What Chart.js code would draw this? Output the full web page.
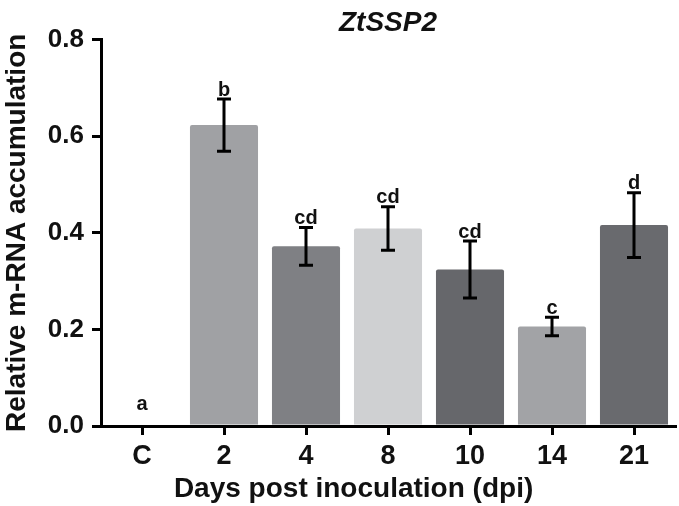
<!DOCTYPE html>
<html>
<head>
<meta charset="utf-8">
<script src="https://cdn.jsdelivr.net/npm/chart.js@4"></script>
<style>
  html, body { margin: 0; padding: 0; background: #fff; }
  #wrap { width: 679px; height: 506px; }
</style>
</head>
<body>
<div id="wrap"><canvas id="exprChart" width="679" height="506"></canvas></div>
<script>
const days = ["C", "2", "4", "8", "10", "14", "21"];
const meanExpr = [0, 0.623, 0.372, 0.409, 0.324, 0.206, 0.416];
const errExpr = [0, 0.054, 0.039, 0.045, 0.059, 0.019, 0.067];
const groupLetters = ["a", "b", "cd", "cd", "cd", "c", "d"];
const barColors = ["#ffffff", "#a0a1a4", "#7f8084", "#cfd0d2", "#66676b", "#a2a3a6", "#696a6e"];
const yTicks = [0, 0.2, 0.4, 0.6, 0.8];
const xTitle = "Days post inoculation (dpi)";

const FONT = "'Liberation Sans', Arial, Helvetica, sans-serif";

// error bars, significance letters and the x axis title
const errorBarPlugin = {
  id: "errorBars",
  afterDatasetsDraw(chart) {
    const ctx = chart.ctx;
    const x = chart.scales.x;
    const y = chart.scales.y;
    ctx.save();
    ctx.strokeStyle = "#000";
    ctx.fillStyle = "#111";
    ctx.lineWidth = 3;
    ctx.font = "bold 20px " + FONT;
    ctx.textAlign = "center";
    ctx.textBaseline = "bottom";
    meanExpr.forEach((v, i) => {
      const cx = x.getPixelForValue(i);
      const top = y.getPixelForValue(v + errExpr[i]);
      const bot = y.getPixelForValue(v - errExpr[i]);
      if (errExpr[i] > 0) {
        ctx.beginPath();
        ctx.moveTo(cx, top);
        ctx.lineTo(cx, bot);
        ctx.moveTo(cx - 7, top);
        ctx.lineTo(cx + 7, top);
        ctx.moveTo(cx - 7, bot);
        ctx.lineTo(cx + 7, bot);
        ctx.stroke();
        ctx.fillText(groupLetters[i], cx, top + 1);
      } else {
        ctx.fillText(groupLetters[i], cx, top - 12);
      }
    });

    // x title sits a bit left of the plot centre in the original
    const area = chart.chartArea;
    ctx.font = "bold 28px " + FONT;
    ctx.textBaseline = "alphabetic";
    ctx.fillText(xTitle, area.left + area.width * 0.44, 497);
    ctx.restore();
  },
};

new Chart(document.getElementById("exprChart").getContext("2d"), {
  type: "bar",
  data: {
    labels: days,
    datasets: [
      {
        data: meanExpr,
        backgroundColor: barColors,
        borderWidth: 0,
        borderRadius: 2,
        borderSkipped: "bottom",
        categoryPercentage: 1,
        barPercentage: 0.83,
      },
    ],
  },
  options: {
    responsive: false,
    animation: false,
    layout: { padding: { left: 0, right: 4, top: 0, bottom: 0 } },
    plugins: {
      legend: { display: false },
      tooltip: { enabled: false },
      title: {
        display: true,
        fullSize: false,
        text: "ZtSSP2",
        color: "#111",
        font: { family: FONT, size: 28, weight: "bold", style: "italic" },
        padding: { top: 6, bottom: 0 },
      },
    },
    scales: {
      x: {
        afterFit(scale) {
          scale.height = 80;
        },
        grid: {
          offset: false,
          drawOnChartArea: false,
          color: "#000",
          lineWidth: 3,
          tickLength: 9,
        },
        border: { color: "#000", width: 3 },
        ticks: {
          color: "#111",
          padding: 5,
          font: { family: FONT, size: 27, weight: "bold" },
        },
      },
      y: {
        min: 0,
        max: 0.8,
        afterBuildTicks(scale) {
          scale.ticks = yTicks.map((v) => ({ value: v }));
        },
        afterFit(scale) {
          scale.width = 101;
        },
        grid: {
          drawOnChartArea: false,
          color: "#000",
          lineWidth: 3,
          tickLength: 9,
        },
        border: { color: "#000", width: 3 },
        ticks: {
          color: "#111",
          padding: 8,
          font: { family: FONT, size: 26, weight: "bold" },
          callback: (v) => Number(v).toFixed(1),
        },
        title: {
          display: true,
          text: "Relative m-RNA accumulation",
          color: "#111",
          font: { family: FONT, size: 28, weight: "bold" },
          padding: { top: 0, bottom: 0 },
        },
      },
    },
  },
  plugins: [errorBarPlugin],
});
</script>
</body>
</html>
